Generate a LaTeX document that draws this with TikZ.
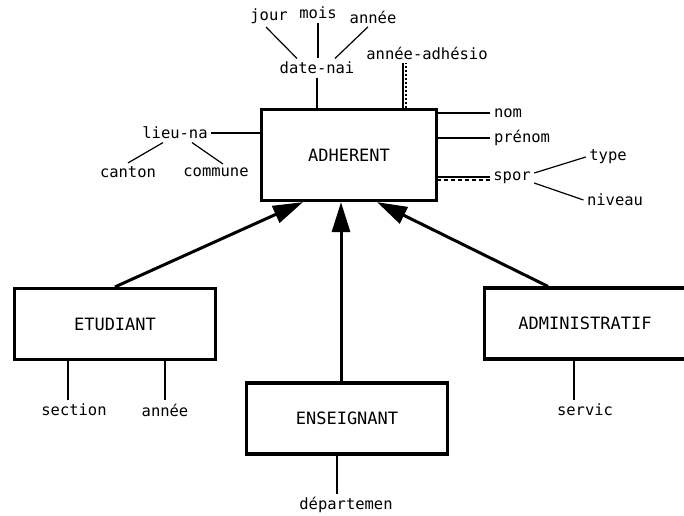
\documentclass[tikz,border=0pt]{standalone}
\usepackage{fontspec}
\setmainfont{DejaVu Sans Mono}
\usepackage{tikz}
\usetikzlibrary{positioning}
\usetikzlibrary{calc}
\usetikzlibrary{arrows.meta}

\tikzset{
	entite/.style={draw, line width=3.2pt, minimum width=201pt, minimum height=71pt, inner sep=0pt, font=\fontsize{17}{20}\selectfont},
	lien/.style={line width=1.2pt},
	multi/.style={line width=1.2pt, dash pattern=on 4pt off 3pt},
	isa/.style={line width=3pt, -{Triangle[length=30pt,width=18pt]}}
}

\begin{document}
\begin{tikzpicture}[x=1pt, y=-1pt, font=\fontsize{15.5}{18}\selectfont]
	\useasboundingbox (0,0) rectangle (684,515);
	
	\node [entite, minimum width=175pt, minimum height=91pt] at (349,155) (adherent) {ADHERENT};
	\node [entite] at (115,324) (etudiant) {ETUDIANT};
	\node [entite] at (347,418.5) (enseignant) {ENSEIGNANT};
	\node [entite] at (585,323.5) (administratif) {ADMINISTRATIF};
	
	% attributs de ADHERENT
	\node at (269,16) (jour) {jour}; \node at (318,13) (mois) {mois}; \node at (373,17) (annee1) {année};
	\node at (317,68) (datenai) {date-nai}; \node at (427,53) (anneeadh) {année-adhésio};
	\node at (508,113) (nom) {nom}; \node at (522,138) (prenom) {prénom}; \node at (512,178) (spor) {spor};
	\node at (608,157) (type) {type}; \node at (615,200) (niveau) {niveau};
	\node at (175,133) (lieuna) {lieu-na}; \node at (128,172) (canton) {canton}; \node at (216,172) (commune) {commune};
	
	% attributs des sous-types
	\node at (74,410) (section) {section}; \node at (165,410) (annee2) {année};
	\node at (346,505) (departement) {départemen};
	\node at (585,410) (servic) {servic};
	
	\coordinate (adhpied) at ([xshift=54pt]adherent.north); \coordinate (adhpoint) at ([xshift=3pt]adhpied);
	\coordinate (secx) at ([xshift=-6pt]section.north); \coordinate (depx) at ([xshift=-9pt]departement.north);
	\coordinate (servx) at ([xshift=-11pt]servic.north);
	
	\draw [lien] ([xshift=-3pt]jour.south) -- ([xshift=-20pt]datenai.north); \draw [lien] (mois.south) -- (mois.south |- datenai.north);
	\draw [lien] ([xshift=-5pt]annee1.south) -- ([xshift=18pt]datenai.north);
	\draw [lien] (datenai) -- (datenai |- adherent.north);
	\draw [lien] (adhpied) -- (adhpied |- anneeadh.south); \draw [lien, dash pattern=on 2pt off 2pt] (adhpoint) -- (adhpoint |- anneeadh.south);
	\draw [lien] (nom) -- (nom -| adherent.east); \draw [lien] (prenom) -- (prenom -| adherent.east);
	\draw [lien] ([yshift=1pt]spor.west) -- ([yshift=1pt]spor.west -| adherent.east);
	\draw [multi] ([yshift=-2pt]spor.west) -- ([yshift=-2pt]spor.west -| adherent.east);
	\draw [lien] ([yshift=5pt]spor.east) -- (type.west); \draw [lien] ([yshift=-5pt]spor.east) -- (niveau.west);
	\draw [lien] (lieuna) -- (lieuna -| adherent.west);
	\draw [lien] ([xshift=-12pt]lieuna.south) -- (canton.north); \draw [lien] ([xshift=17pt]lieuna.south) -- ([xshift=7pt]commune.north);
	
	\draw [lien] (secx) -- (secx |- etudiant.south); \draw [lien] (annee2) -- (annee2 |- etudiant.south);
	\draw [lien] (depx) -- (depx |- enseignant.south); \draw [lien] (servx) -- (servx |- administratif.south);
	
	\draw [isa] (etudiant.north) -- ([xshift=-46pt]adherent.south);
	\draw [isa] ([xshift=-6pt]enseignant.north) -- ([xshift=-8pt]adherent.south);
	\draw [isa] ([xshift=-37pt]administratif.north) -- ([xshift=28pt]adherent.south);
	
\end{tikzpicture}
\end{document}
